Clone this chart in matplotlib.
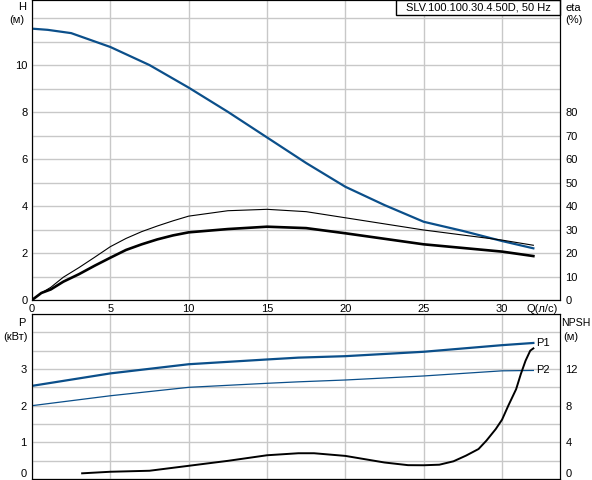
import numpy as np
import matplotlib
matplotlib.use("Agg")
import matplotlib.pyplot as plt
from matplotlib.patches import Rectangle

plt.rcParams['font.family'] = ['Liberation Sans', 'DejaVu Sans']

# Pump curve data
q_h = [0, 1, 2.5, 5, 7.5, 10, 12.5, 15, 17.5, 20, 22.5, 25, 27.5, 30, 32]
head = [11.55, 11.5, 11.36, 10.77, 10.0, 9.04, 8.01, 6.92, 5.83, 4.82, 4.04, 3.33, 2.94, 2.51, 2.2]

q_eta = [0, 0.6, 1.2, 2, 3, 4, 5, 6, 7, 8, 9, 10, 12.5, 15, 17.5, 20, 25, 30, 32]
eta_hyd = [0, 3.0, 5.4, 9.7, 13.8, 18.2, 22.7, 26.2, 29.1, 31.5, 33.7, 35.7, 38.0, 38.6, 37.6, 35.0, 29.8, 25.5, 23.3]
eta_tot = [0, 3.0, 4.5, 7.8, 11.0, 14.6, 18.0, 21.3, 23.7, 25.8, 27.5, 28.8, 30.2, 31.2, 30.6, 28.4, 23.7, 20.6, 18.7]

q_p = [0, 5, 10, 15, 17, 20, 25, 30, 32]
p1 = [2.54, 2.88, 3.13, 3.26, 3.31, 3.35, 3.47, 3.65, 3.71]
p2 = [2.0, 2.27, 2.50, 2.61, 2.65, 2.70, 2.81, 2.95, 2.96]

q_npsh = [3.2, 5, 7.5, 10, 12.5, 15, 17, 18, 20, 22.5, 24, 25, 26, 26.9, 27.7, 28.5,
          29, 29.6, 30, 30.4, 30.9, 31.2, 31.5, 31.8, 32]
npsh = [0.62, 0.79, 0.90, 1.44, 1.98, 2.59, 2.81, 2.81, 2.52, 1.80, 1.51, 1.5, 1.56, 1.93, 2.55, 3.27,
        4.18, 5.45, 6.47, 8.0, 9.8, 11.45, 12.9, 14.0, 14.25]

title = "SLV.100.100.30.4.50D, 50 Hz"
blue = "#0b4f8a"
grid_c = "#c8c8c8"
fs = 8

fig = plt.figure(figsize=(5.92, 4.8), dpi=100)
ax1 = fig.add_axes([32 / 592, 180 / 480, 528 / 592, 300 / 480])
ax2 = fig.add_axes([32 / 592, 1 / 480, 528 / 592, 165 / 480])

xmax = 33.7

# ---- top panel: head + efficiency
ax1.plot(q_h, head, color=blue, lw=1.6)
ax1.set_xlim(0, xmax)
ax1.set_ylim(0, 12.77)
ax1.set_xticks(range(0, 35, 5))
ax1.set_xticklabels([str(v) for v in range(0, 35, 5)])
ax1.set_yticks(range(0, 11, 2))
ax1.set_yticks(range(0, 13), minor=True)
ax1.grid(True, which='both', color=grid_c, lw=1)
ax1.set_axisbelow(True)
ax1.tick_params(length=0, labelsize=fs, pad=3)
ax1.tick_params(which='minor', length=0)

ax1e = ax1.twinx()
ax1e.plot(q_eta, eta_hyd, color='black', lw=0.8)
ax1e.plot(q_eta, eta_tot, color='black', lw=1.9)
ax1e.set_ylim(0, 127.7)
ax1e.set_yticks(range(0, 90, 10))
ax1e.tick_params(length=0, labelsize=fs, pad=4)

fig.text(22 / 592, 1 - 7 / 480, "H", fontsize=fs, ha='center', va='center')
fig.text(17 / 592, 1 - 20 / 480, "(м)", fontsize=fs, ha='center', va='center')
fig.text(565 / 592, 1 - 8 / 480, "eta", fontsize=fs, ha='left', va='center')
fig.text(565 / 592, 1 - 20 / 480, "(%)", fontsize=fs, ha='left', va='center')
fig.text(542 / 592, 1 - 309 / 480, "Q(л/с)", fontsize=fs, ha='center', va='center')

# title box in the top-right corner
bx0 = (396 - 32) / 528
ax1.add_patch(Rectangle((bx0, 1 - 15 / 300), 1 - bx0, 15 / 300, transform=ax1.transAxes,
                        fc='white', ec='black', lw=1, zorder=5, clip_on=False))
ax1.text((bx0 + 1) / 2, 1 - 7.5 / 300, title, transform=ax1.transAxes, fontsize=fs,
         ha='center', va='center', zorder=6)

# ---- bottom panel: power + NPSH
ax2.plot(q_p, p1, color=blue, lw=1.6)
ax2.plot(q_p, p2, color=blue, lw=0.9)
ax2.set_xlim(0, xmax)
ax2.set_ylim(0, 4.5)
ax2.set_xticks(range(0, 35, 5))
ax2.set_xticklabels([])
ax2.set_yticks([0, 1, 2, 3])
ax2.set_yticks(np.arange(0, 4.6, 0.5), minor=True)
ax2.grid(True, which='both', color=grid_c, lw=1)
ax2.set_axisbelow(True)
ax2.tick_params(length=0, labelsize=fs, pad=4)
ax2.tick_params(which='minor', length=0)
ax2.get_yticklabels()[0].set_va('bottom')

ax2n = ax2.twinx()
ax2n.plot(q_npsh, npsh, color='black', lw=1.4)
ax2n.set_ylim(0, 18)
ax2n.set_yticks([0, 4, 8, 12])
ax2n.tick_params(length=0, labelsize=fs, pad=4)
ax2n.get_yticklabels()[0].set_va('bottom')

ax2.text(32.15, p1[-1], "P1", fontsize=fs, ha='left', va='center')
ax2.text(32.15, p2[-1], "P2", fontsize=fs, ha='left', va='center')

fig.text(22 / 592, 1 - 323 / 480, "P", fontsize=fs, ha='center', va='center')
fig.text(16 / 592, 1 - 337 / 480, "(кВт)", fontsize=fs, ha='center', va='center')
fig.text(561 / 592, 1 - 323 / 480, "NPSH", fontsize=7.6, ha='left', va='center')
fig.text(563 / 592, 1 - 337 / 480, "(м)", fontsize=fs, ha='left', va='center')

fig.savefig("out.png", dpi=100)
